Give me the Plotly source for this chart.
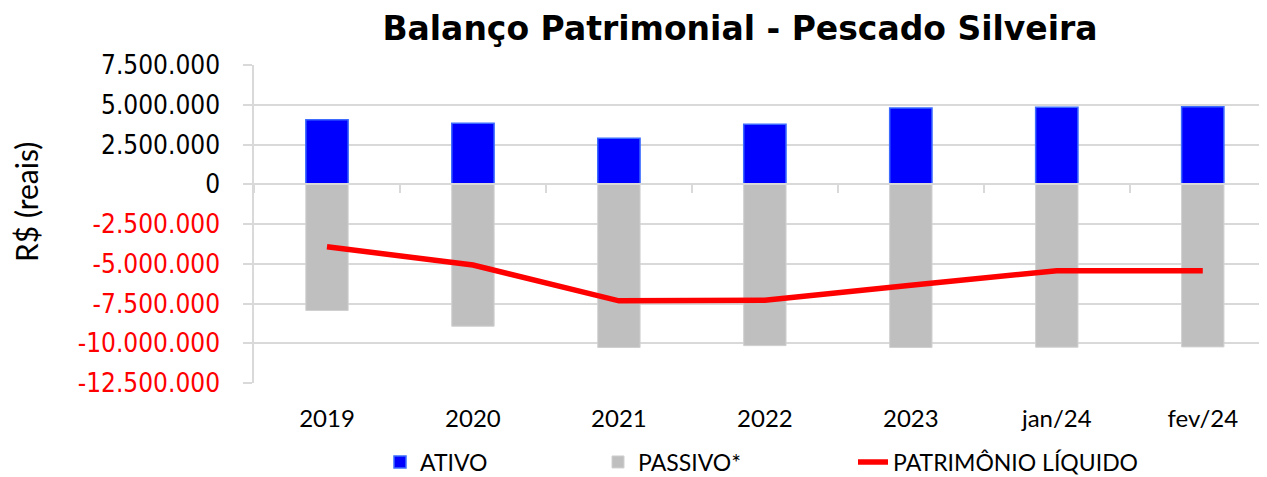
import plotly.graph_objects as go

categories = ["2019", "2020", "2021", "2022", "2023", "jan/24", "fev/24"]
ativo = [4050000, 3840000, 2900000, 3780000, 4790000, 4850000, 4870000]
passivo = [-7940000, -8930000, -10270000, -10150000, -10270000, -10250000, -10230000]
patrimonio = [-3930000, -5080000, -7330000, -7290000, -6350000, -5440000, -5440000]
y_ticks = [7500000, 5000000, 2500000, 0, -2500000, -5000000, -7500000, -10000000, -12500000]


def fmt(v):
    s = f"{abs(v):,}".replace(",", ".")
    if v < 0:
        return f'<span style="color:#FF0000">-{s}</span>'
    return s


y_text = [fmt(v) for v in y_ticks]

# page body has an 8px margin: figure origin sits at (8, 8) of the window
OFF = 8
W, H = 1267 - OFF, 477 - OFF
L, R, T, B = 246, 0, 57, 94
pw = W - L - R
ph = H - T - B


def px_x(sx):
    return (sx - OFF - L) / pw


def px_y(sy):
    return (H - B - (sy - OFF)) / ph


fig = go.Figure()
fig.add_trace(go.Bar(
    x=categories, y=ativo, name="ATIVO", width=0.29,
    marker=dict(color="#0000FF", line=dict(color="#3D6BFF", width=1.5)),
    legend="legend",
))
fig.add_trace(go.Bar(
    x=categories, y=passivo, name="PASSIVO*", width=0.29,
    marker=dict(color="#BFBFBF", line=dict(color="#D0D0D0", width=1)),
    legend="legend2",
))
fig.add_trace(go.Scatter(
    x=categories, y=patrimonio, name="PATRIMÔNIO LÍQUIDO", mode="lines",
    line=dict(color="#FF0000", width=5.5),
    xaxis="x2", legend="legend3",
))

leg_font = dict(family="Lato, Noto Sans, sans-serif", size=23, color="#000000")
legend_common = dict(orientation="h", xanchor="left", yanchor="middle", visible=True,
                     font=leg_font, bgcolor="rgba(0,0,0,0)", borderwidth=0)

fig.update_layout(
    width=W, height=H,
    margin=dict(l=L, r=R, t=T, b=B, autoexpand=False),
    plot_bgcolor="white", paper_bgcolor="white",
    barmode="relative",
    separators=",.",
    showlegend=True,
    title=dict(
        text="<b>Balanço Patrimonial - Pescado Silveira</b>",
        font=dict(family="DejaVu Sans, sans-serif", size=33, color="#000000"),
        x=(740 - OFF) / W, xanchor="center", y=1 - (20.5) / H, yanchor="middle",
        xref="container", yref="container",
    ),
    xaxis=dict(
        type="category", categoryorder="array", categoryarray=categories,
        range=[-0.5, 6.44], showgrid=False, showline=False, ticks="",
        tickfont=dict(family="Lato, Noto Sans, sans-serif", size=24, color="#000000"),
        ticklabelstandoff=19, zeroline=False,
    ),
    xaxis2=dict(
        matches="x", overlaying="x", anchor="free", position=0.625,
        showticklabels=False, showgrid=False, showline=True,
        linecolor="#D9D9D9", linewidth=1.5,
        ticks="outside", ticklen=8, tickwidth=1.5, tickcolor="#D9D9D9",
        tickson="boundaries", zeroline=False,
    ),
    yaxis=dict(
        range=[-12500000, 7500000], tickmode="array", tickvals=y_ticks, ticktext=y_text,
        showgrid=True, gridcolor="#D9D9D9", gridwidth=1.5,
        showline=True, linecolor="#D9D9D9", linewidth=1.5,
        ticks="outside", ticklen=9, tickwidth=1.5, tickcolor="#D9D9D9",
        tickfont=dict(family="DejaVu Sans Condensed, DejaVu Sans, sans-serif", size=26, color="#000000"),
        ticklabelstandoff=18, zeroline=False,
    ),
    legend=dict(x=px_x(420 - 40), y=px_y(462), **legend_common),
    legend2=dict(x=px_x(638 - 40), y=px_y(462), **legend_common),
    legend3=dict(x=px_x(893 - 40), y=px_y(462), **legend_common),
    annotations=[dict(
        text="R$ (reais)", textangle=-90, showarrow=False,
        x=px_x(26), y=px_y(202), xref="paper", yref="paper",
        xanchor="center", yanchor="middle",
        font=dict(family="Lato, Noto Sans, sans-serif", size=30, color="#000000"),
    )],
)

fig.write_html("out.html")
